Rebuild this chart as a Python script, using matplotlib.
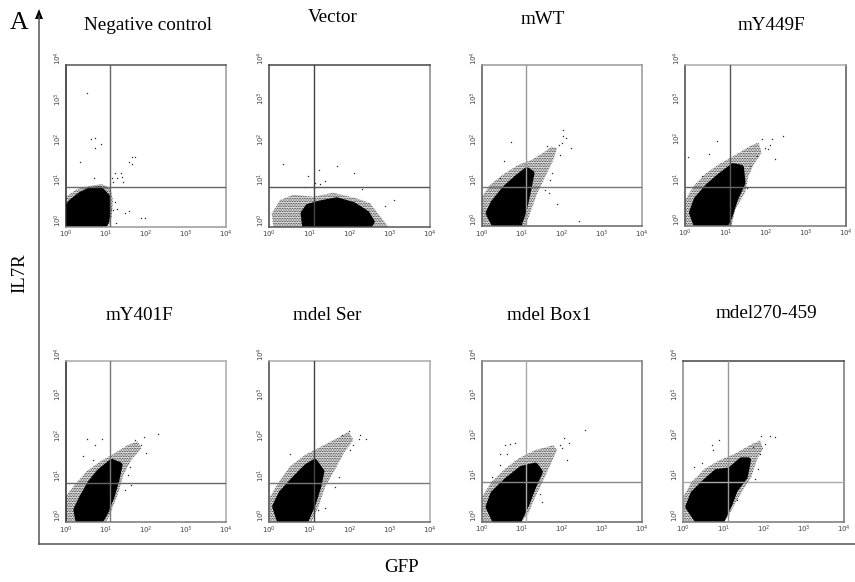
import numpy as np
import matplotlib.pyplot as plt

W, H = 855, 582

plt.rcParams['font.family'] = ['Liberation Serif', 'DejaVu Serif']
plt.rcParams['mathtext.fontset'] = 'dejavusans'
plt.rcParams['hatch.linewidth'] = 0.4

titles = ['Negative control', 'Vector', 'mWT', 'mY449F',
          'mY401F', 'mdel Ser', 'mdel Box1', 'mdel270-459']
decade_labels = ['$10^{0}$', '$10^{1}$', '$10^{2}$', '$10^{3}$', '$10^{4}$']
gate_x = 1.106  # log10 GFP gate
gate_y = 0.975  # log10 IL7R gate

# cloud outlines and stray events, all in log10 decades (x, y)
neg_core = [(0, 0), (0, .45), (.15, .62), (.36, .79), (.61, .91), (.86, .93), (1.04, .74), (1.07, .41), (1.01, .12), (.94, 0)]
neg_halo = [(0, 0), (0, .74), (.28, .93), (.61, 1.01), (.9, 1.06), (1.11, .95), (1.18, .66), (1.15, .25), (1.07, 0)]
neg_pts = [(.54, 3.32), (.63, 2.18), (.73, 2.2), (.72, 1.94), (.88, 2.05), (.36, 1.6), (1.65, 1.72), (1.73, 1.72), (1.57, 1.6),
           (1.65, 1.55), (1.38, 1.34), (1.4, 1.24), (1.23, 1.32), (1.15, 1.2), (1.29, 1.2), (1.44, 1.12), (1.19, 1.12), (.71, 1.21),
           (1.275, .45), (1.59, .4), (1.88, .21), (1.98, .21), (1.48, .33), (1.26, .1), (1.19, .41), (1.23, .62)]

vec_core = [(.89, 0), (.85, .33), (.97, .5), (1.27, .58), (1.68, .66), (2.1, .54), (2.43, .33), (2.56, .12), (2.48, 0)]
vec_halo = [(.1, 0), (.06, .33), (.27, .66), (.6, .79), (1.1, .74), (1.6, .84), (2.18, .7), (2.52, .58), (2.77, .25), (2.97, 0)]
vec_pts = [(.33, 1.55), (.97, 1.26), (1.7, 1.49), (2.12, 1.34), (1.24, 1.41), (1.27, 1.05), (1.39, 1.12), (1.14, 1.09),
           (3.12, .66), (2.89, .5), (2.31, .93), (1.12, .95), (.89, .97)]

wt_core = [(.33, 0), (.16, .33), (.28, .58), (.58, .95), (.91, 1.24), (1.12, 1.4), (1.24, 1.32), (1.16, .91), (1.05, .41), (.91, 0)]
wt_halo = [(0, 0), (0, .74), (.2, 1.03), (.53, 1.29), (.91, 1.53), (1.24, 1.65), (1.58, 1.86), (1.74, 1.98), (1.87, 1.94),
           (1.78, 1.65), (1.58, 1.24), (1.38, .83), (1.2, .33), (1.08, 0)]
wt_pts = [(2.03, 2.38), (2.02, 2.23), (2.1, 2.19), (2.22, 1.94), (1.99, 2.07), (1.91, 2.02), (1.62, 2.0), (.73, 2.09), (.55, 1.63),
          (.45, 1.2), (1.88, .56), (2.41, .14), (1.7, 1.16), (1.66, .83), (1.58, .91), (1.74, 1.32), (1.95, 1.78)]

y449_core = [(.28, 0), (.16, .33), (.28, .66), (.57, .99), (.86, 1.24), (1.19, 1.49), (1.39, 1.45), (1.43, 1.07), (1.24, .66), (1.11, .25), (.99, 0)]
y449_halo = [(0, 0), (0, .66), (.24, 1.03), (.53, 1.32), (.9, 1.57), (1.28, 1.78), (1.61, 1.98), (1.82, 2.07), (1.9, 1.82),
             (1.73, 1.57), (1.57, 1.24), (1.49, .83), (1.24, .41), (1.15, 0)]
y449_pts = [(2.44, 2.23), (2.15, 2.15), (2.12, 2.02), (1.9, 2.15), (2.07, 1.9), (2.23, 1.65), (.78, 2.11), (.6, 1.78), (.07, 1.72),
            (.41, 1.24), (1.98, 1.94), (1.53, .95), (1.61, 1.49), (1.78, 1.74)]

y401_core = [(.32, 0), (.26, .31), (.4, .6), (.61, .97), (.85, 1.26), (1.15, 1.5), (1.35, 1.42), (1.27, 1.05), (1.15, .64), (1.0, .26), (.85, 0)]
y401_halo = [(0, 0), (0, .64), (.23, .93), (.52, 1.26), (.85, 1.5), (1.22, 1.71), (1.56, 1.92), (1.8, 2.0), (1.89, 1.83),
             (1.64, 1.55), (1.44, 1.17), (1.31, .72), (1.15, .31), (1.02, 0)]
y401_pts = [(.54, 2.06), (.73, 1.92), (.91, 2.07), (2.31, 2.18), (1.96, 2.1), (1.73, 2.04), (1.89, 1.92), (2.0, 1.71), (.44, 1.65),
            (.69, 1.55), (1.64, .93), (1.48, .8), (1.56, 1.17), (1.6, 1.38)]

ser_core = [(.27, 0), (.14, .39), (.3, .72), (.64, 1.09), (.93, 1.38), (1.13, 1.5), (1.3, 1.26), (1.22, .88), (1.09, .47), (.89, 0)]
ser_halo = [(.02, 0), (.02, .64), (.22, .97), (.51, 1.38), (.89, 1.67), (1.3, 1.88), (1.68, 2.08), (1.97, 2.24), (2.09, 2.04),
            (1.85, 1.71), (1.63, 1.3), (1.39, .88), (1.22, .39), (1.05, 0)]
ser_pts = [(2.41, 2.07), (2.26, 2.15), (2.24, 2.07), (1.97, 2.25), (1.8, 2.17), (.51, 1.69), (2.09, 1.92), (2.01, 1.79), (1.39, .35),
           (1.22, .31), (1.63, .88), (1.72, 1.13)]

box_core = [(.33, 0), (.16, .37), (.28, .7), (.62, 1.03), (.99, 1.32), (1.33, 1.4), (1.45, 1.24), (1.28, .87), (1.12, .45), (.91, 0)]
box_halo = [(0, 0), (0, .62), (.24, .99), (.58, 1.32), (.91, 1.57), (1.33, 1.78), (1.78, 1.9), (1.87, 1.78), (1.7, 1.4),
            (1.53, 1.03), (1.33, .62), (1.16, .21), (.99, 0)]
box_pts = [(2.58, 2.27), (2.18, 1.96), (2.05, 2.07), (1.95, 1.9), (2.12, 1.53), (1.99, 1.82), (.83, 1.96), (.58, 1.9), (.45, 1.69),
           (.62, 1.69), (.45, 1.4), (.24, 1.12), (1.49, .5), (1.45, .7), (.7, 1.93)]

del_core = [(.37, 0), (.12, .37), (.25, .7), (.54, .99), (.83, 1.24), (1.16, 1.28), (1.45, 1.53), (1.62, 1.53), (1.54, 1.12),
            (1.29, .79), (1.16, .45), (.95, 0)]
del_halo = [(0, 0), (0, .62), (.21, .99), (.54, 1.32), (.91, 1.53), (1.29, 1.69), (1.66, 1.9), (1.91, 2.02), (1.99, 1.82),
            (1.83, 1.53), (1.7, 1.12), (1.49, .79), (1.29, .45), (1.12, .12), (1.0, 0)]
del_pts = [(2.28, 2.11), (2.16, 2.12), (1.95, 2.13), (.89, 2.02), (.71, 1.9), (.46, 1.46), (.27, 1.36), (2.03, 1.94), (1.74, 1.86),
           (1.91, 1.69), (1.87, 1.32), (1.33, .54), (1.78, 1.07), (.75, 1.78)]

cores = [neg_core, vec_core, wt_core, y449_core, y401_core, ser_core, box_core, del_core]
halos = [neg_halo, vec_halo, wt_halo, y449_halo, y401_halo, ser_halo, box_halo, del_halo]
strays = [neg_pts, vec_pts, wt_pts, y449_pts, y401_pts, ser_pts, box_pts, del_pts]

# layout in reference pixels: left, right, top, bottom of each plot box
boxes = [(65.7, 226, 65.3, 226.7), (269.3, 429.7, 65, 226.7), (482, 642.3, 65, 226.5), (685.3, 846, 64.7, 226),
         (65.7, 226, 360.7, 522.3), (269.3, 430.3, 360.7, 522.3), (482, 642.3, 360.7, 521.7), (683.3, 843.7, 360.7, 521.7)]
title_pos = [(148, 26), (332.7, 18), (542.7, 19), (771.7, 26), (139.7, 315), (326.7, 315), (549, 316), (766.7, 314)]

# scan shades: top, right, bottom, left spine, then vertical and horizontal gate
shades = [('#555555', '#999999', '#999999', '#222222', '#666666', '#666666'),
          ('#444444', '#888888', '#555555', '#444444', '#444444', '#555555'),
          ('#999999', '#999999', '#666666', '#555555', '#999999', '#777777'),
          ('#aaaaaa', '#555555', '#777777', '#444444', '#555555', '#666666'),
          ('#aaaaaa', '#aaaaaa', '#777777', '#222222', '#777777', '#666666'),
          ('#aaaaaa', '#aaaaaa', '#666666', '#444444', '#444444', '#777777'),
          ('#888888', '#777777', '#666666', '#666666', '#aaaaaa', '#888888'),
          ('#444444', '#777777', '#777777', '#888888', '#999999', '#aaaaaa')]


def to_axis(points):
    arr = np.array(points, dtype=float)
    return 10.0 ** arr[:, 0], 10.0 ** arr[:, 1]


def draw_panel(fig, box, core, halo, pts, shade):
    left, right, top, bottom = box
    ax = fig.add_axes([left / W, 1 - bottom / H, (right - left) / W, (bottom - top) / H])
    ax.set_xscale('log')
    ax.set_yscale('log')
    ax.set_xlim(1, 1e4)
    ax.set_ylim(1, 1e4)

    # speckle around the cloud, then the saturated centre with a fat round edge
    ax.fill(*to_axis(halo), facecolor='#e2e2e2', edgecolor='black', hatch='..........', linewidth=0, zorder=1)
    ax.fill(*to_axis(core), facecolor='black', edgecolor='black', linewidth=4, joinstyle='round', zorder=2)
    ax.scatter(*to_axis(pts), s=1.0, color='#222222', linewidths=0, zorder=2)

    ax.axvline(10 ** gate_x, color=shade[4], lw=1.0, zorder=3)
    ax.axhline(10 ** gate_y, color=shade[5], lw=1.0, zorder=3)

    ticks = [1, 10, 100, 1000, 10000]
    ax.set_xticks(ticks)
    ax.set_xticklabels(decade_labels)
    ax.set_yticks(ticks)
    ax.set_yticklabels(decade_labels, rotation=90, va='bottom')
    ax.minorticks_off()
    ax.tick_params(length=0, labelsize=5, labelcolor='#444444', pad=1.5)
    for side, colour in zip(['top', 'right', 'bottom', 'left'], shade[:4]):
        ax.spines[side].set_color(colour)
        ax.spines[side].set_linewidth(1.1)


def main():
    fig = plt.figure(figsize=(W / 100, H / 100), dpi=100)

    # overlay in pixel coordinates for the big axis arrows and labels
    over = fig.add_axes([0, 0, 1, 1])
    over.set_xlim(0, W)
    over.set_ylim(H, 0)
    over.axis('off')
    over.plot([39, 39], [16, 543.5], color='#555555', lw=1.1)
    over.plot([39, W], [543.5, 543.5], color='#555555', lw=1.1)
    over.fill([39, 35, 43], [9, 19, 19], color='black', linewidth=0)
    over.text(19.5, 23, 'A', fontsize=18.5, ha='center', va='center')
    over.text(20, 273, 'IL7R', fontsize=13.5, rotation=90, ha='center', va='center')
    over.text(402, 567, 'GFP', fontsize=13.7, ha='center', va='center')
    for label, (x, y) in zip(titles, title_pos):
        over.text(x, y, label, fontsize=13.8, ha='center', va='center')

    for box, core, halo, pts, shade in zip(boxes, cores, halos, strays, shades):
        draw_panel(fig, box, core, halo, pts, shade)

    fig.savefig('out.png', dpi=100)


if __name__ == "__main__":
    main()
